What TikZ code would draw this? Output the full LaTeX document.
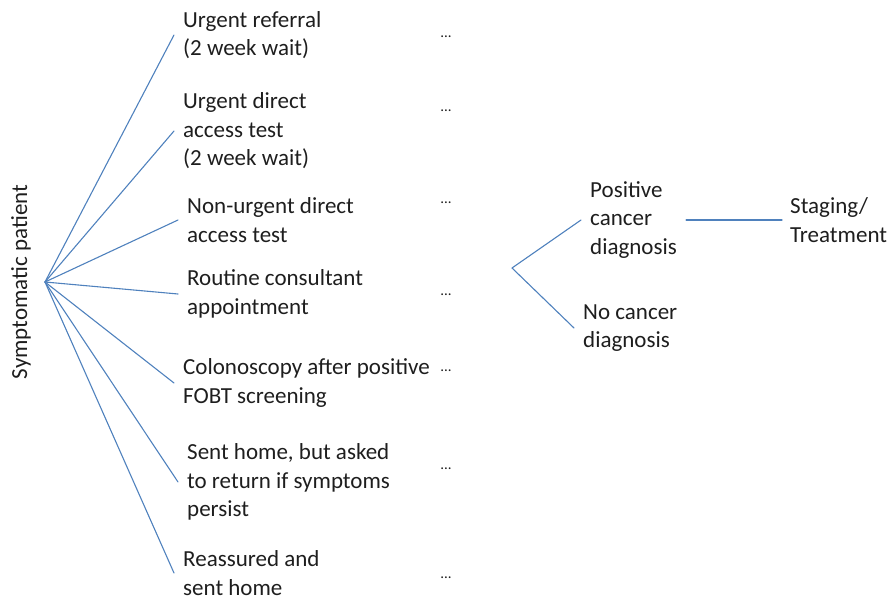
\documentclass[tikz,border=0pt]{standalone}
\usepackage{fontspec}
\setmainfont{Carlito}
\usepackage{tikz}
\definecolor{branchblue}{RGB}{79,129,189}
\definecolor{txt}{RGB}{30,30,30}

\begin{document}
\begin{tikzpicture}[line cap=round,line join=round,x=1pt,y=-1pt,
    lab/.style={anchor=west, align=left, inner xsep=9pt, inner ysep=0pt, text=txt,
                font=\fontsize{23}{28.5}\selectfont},
    dots/.style={text=txt, inner sep=0pt, font=\fontsize{15}{15}\selectfont},
    branch/.style={draw=branchblue, line width=1.1pt}]
    \useasboundingbox (0,0) rectangle (890,601);

    \node[rotate=90, text=txt, inner sep=0pt, font=\fontsize{23}{28}\selectfont] (root) at (21,282) {Symptomatic patient};
    \coordinate (fan) at (45,282);

    \node[lab] (r1) at (174,35) {Urgent referral\\(2 week wait)};
    \node[lab] (r2) at (174,131) {Urgent direct\\access test\\(2 week wait)};
    \node[lab] (r3) at (178,220) {Non-urgent direct\\access test};
    \node[lab] (r4) at (178,294) {Routine consultant\\appointment};
    \node[lab] (r5) at (174,383) {Colonoscopy after positive\\FOBT screening};
    \node[lab] (r6) at (178,482) {Sent home, but asked\\to return if symptoms\\persist};
    \node[lab] (r7) at (174,573) {Reassured and\\sent home};

    % dots at the end of each route
    \node[dots] (d1) at (446,37) {...};
    \node[dots] (d2) at (446,111) {...};
    \node[dots] (d3) at (446,203) {...};
    \node[dots] (d4) at (446,295) {...};
    \node[dots] (d5) at (446,371) {...};
    \node[dots] (d6) at (446,469) {...};
    \node[dots] (d7) at (446,578) {...};

    \foreach \n in {1,...,7}
        \draw[branch] (fan) -- (r\n.west);

    % diagnosis
    \coordinate (fork) at (512,268);
    \node[lab] (pos) at (581,220) {Positive\\cancer\\diagnosis};
    \node[lab] (neg) at (574,328) {No cancer\\diagnosis};
    \node[lab, inner xsep=8pt] (stage) at (782,220) {Staging/\\Treatment};

    \draw[branch] (pos.west) -- (fork) -- (neg.west);
    \draw[branch] (pos.east) -- (stage.west);
\end{tikzpicture}
\end{document}
